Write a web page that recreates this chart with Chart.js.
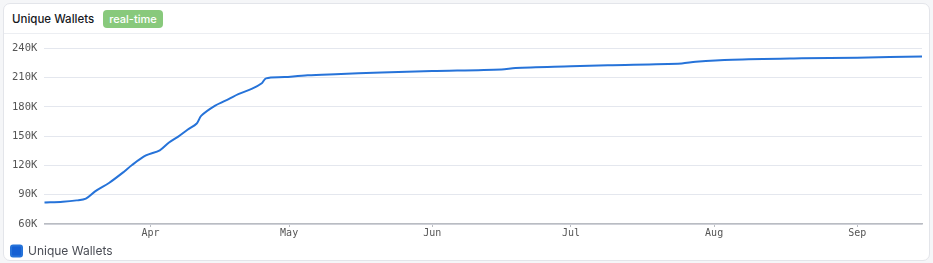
<!DOCTYPE html>
<html>
<head>
<meta charset="utf-8">
<script src="https://cdn.jsdelivr.net/npm/chart.js@4.4.1/dist/chart.umd.min.js"></script>
<style>
  html, body { margin: 0; padding: 0; background: #f5f6f8; }
  .card {
    position: absolute; left: 3px; top: 3px; width: 925px; height: 256px;
    background: #fff; border: 1px solid #e3e5ea; border-radius: 7px; overflow: hidden;
  }
  .head {
    height: 29px; border-bottom: 1px solid #eceef2;
    display: flex; align-items: center; padding-left: 8px;
    font-family: Inter, "Noto Sans", sans-serif;
  }
  .title { font-size: 11.5px; font-weight: 500; color: #16181d; }
  .badge {
    margin-left: 9px; background: #88c97c; color: #fff; font-size: 11px; font-weight: 500;
    padding: 2px 6px 2px; border-radius: 4px; line-height: 14px;
  }
  .wrap { position: absolute; left: 0; top: 31px; width: 925px; height: 232px; }
</style>
</head>
<body>
<div class="card">
  <div class="head"><span class="title">Unique Wallets</span><span class="badge">real-time</span></div>
  <div class="wrap"><canvas id="myChart"></canvas></div>
</div>
<script>
const dates = [
  '2024-03-09', '2024-03-13', '2024-03-16', '2024-03-18', '2024-03-20', '2024-03-23',
  '2024-03-26', '2024-03-28', '2024-03-31', '2024-04-03', '2024-04-05', '2024-04-07',
  '2024-04-09', '2024-04-11', '2024-04-12', '2024-04-15', '2024-04-18', '2024-04-20',
  '2024-04-23', '2024-04-25', '2024-04-26', '2024-04-30', '2024-05-05', '2024-05-11',
  '2024-05-21', '2024-06-01', '2024-06-16', '2024-06-19', '2024-07-01', '2024-07-09',
  '2024-07-25', '2024-07-28', '2024-08-05', '2024-08-20', '2024-09-01', '2024-09-15'
];
const wallets = [
  82000, 82800, 84200, 86000, 93400, 102000,
  112600, 120500, 130200, 135500, 143500, 149500,
  156500, 163000, 171000, 181300, 188200, 193000,
  198600, 203900, 209200, 210500, 212300, 213500,
  215300, 216700, 218300, 219800, 221500, 222600,
  224500, 226200, 228300, 229700, 230400, 231600
];
const monthLabels = ['Apr', 'May', 'Jun', 'Jul', 'Aug', 'Sep'];
const monthStarts = ['2024-04-01', '2024-05-01', '2024-06-01', '2024-07-01', '2024-08-01', '2024-09-01'];
const yTicks = [60000, 90000, 120000, 150000, 180000, 210000, 240000];

const DAY = 86400000;
const origin = Date.parse(monthStarts[0]);
function dayOf(s) { return Math.round((Date.parse(s) - origin) / DAY); }

const points = dates.map((d, i) => ({ x: dayOf(d), y: wallets[i] }));
const monthDays = monthStarts.map(dayOf);

const ctx = document.getElementById('myChart').getContext('2d');
new Chart(ctx, {
  type: 'line',
  data: {
    datasets: [{
      label: 'Unique Wallets',
      data: points,
      borderColor: '#2673d9',
      backgroundColor: '#1560d4',
      borderWidth: 2,
      pointRadius: 0,
      tension: 0.3,
      fill: false
    }]
  },
  options: {
    responsive: true,
    maintainAspectRatio: false,
    animation: false,
    layout: { padding: { left: 1, right: 7, top: 13, bottom: 0 } },
    plugins: {
      tooltip: { enabled: false },
      legend: {
        position: 'bottom',
        align: 'start',
        labels: {
          boxWidth: 11, boxHeight: 11, padding: 6,
          color: '#4a4d55',
          font: { family: 'Inter, "Noto Sans", sans-serif', size: 12 },
          useBorderRadius: true, borderRadius: 2
        }
      }
    },
    scales: {
      x: {
        type: 'linear',
        min: points[0].x,
        max: points[points.length - 1].x,
        afterBuildTicks: axis => { axis.ticks = monthDays.map(v => ({ value: v })); },
        ticks: {
          autoSkip: false, maxRotation: 0, padding: 0,
          color: '#555',
          font: { family: '"DejaVu Sans Mono", monospace', size: 10 },
          callback: v => monthLabels[monthDays.indexOf(v)]
        },
        grid: { drawOnChartArea: false, drawTicks: true, tickLength: 3, color: '#b9bcc2' },
        border: { color: '#b9bcc2', width: 1.5 }
      },
      y: {
        min: 60000,
        max: 240000,
        afterBuildTicks: axis => { axis.ticks = yTicks.map(v => ({ value: v })); },
        ticks: {
          padding: 7,
          color: '#555',
          font: { family: '"DejaVu Sans Mono", monospace', size: 10.5 },
          callback: v => (v / 1000) + 'K'
        },
        grid: { color: '#e4e7ee', drawTicks: false },
        border: { display: false }
      }
    }
  }
});
</script>
</body>
</html>
